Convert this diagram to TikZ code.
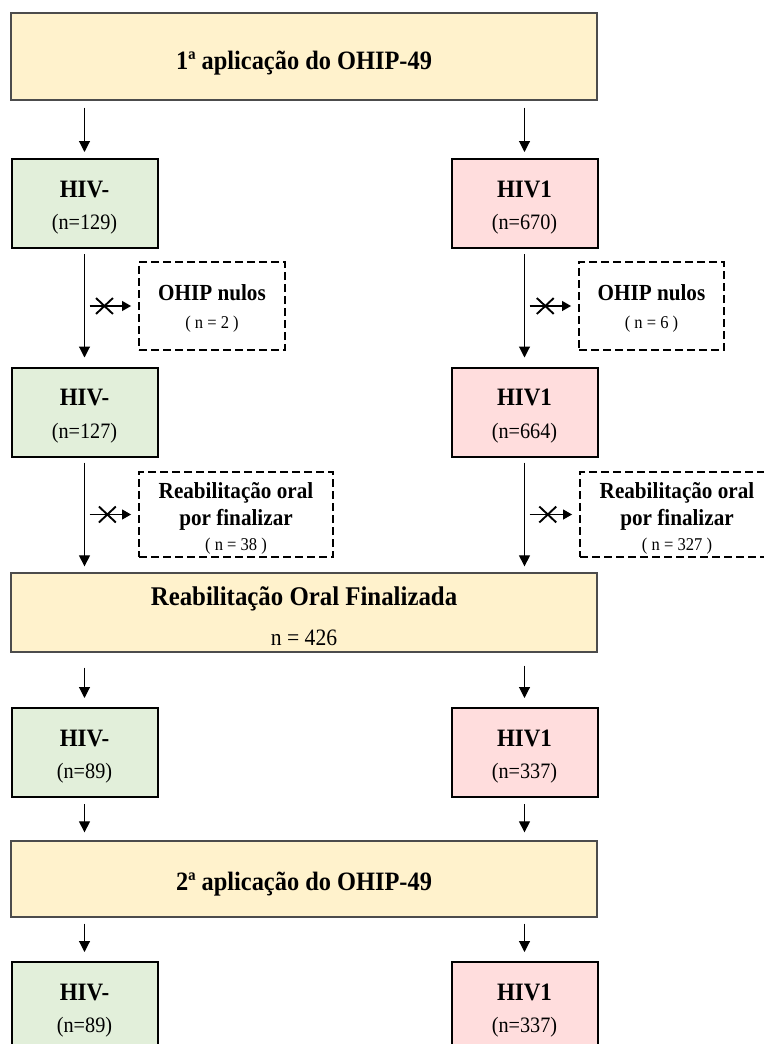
\documentclass[tikz,border=0pt]{standalone}
\usepackage{fontspec}
\setmainfont{Liberation Serif}[FakeStretch=0.92]
\usetikzlibrary{arrows.meta,shapes.misc,calc}
\definecolor{stagefill}{HTML}{FFF2CC}
\definecolor{negfill}{HTML}{E2EFDA}
\definecolor{posfill}{HTML}{FFDDDD}
% group box with a bold title and a count, both set on fixed baselines
% #1 name, #2 style, #3 x centre, #4 y centre, #5 title, #6 count
\newcommand{\hivgroup}[6]{%
  \node[#2] (#1) at (#3,#4) {};
  \node[grptitle] (#1-t) at (#3,#4-6.5) {#5};
  \node[grpcount] (#1-c) at (#3,#4+26) {#6};
}
\begin{document}
\begin{tikzpicture}[x=1pt,y=-1pt,
  txt/.style={inner sep=0pt, anchor=base},
  stage/.style={draw=black!70, line width=1.3pt, fill=stagefill, minimum width=586pt,
    inner sep=0pt},
  stagetitle/.style={txt, font=\fontsize{26.5}{30}\selectfont\bfseries},
  group/.style={draw=black, line width=2pt, minimum width=146pt, minimum height=89pt,
    inner sep=0pt},
  negbox/.style={group, fill=negfill},
  posbox/.style={group, fill=posfill},
  grptitle/.style={txt, font=\fontsize{25}{30}\selectfont\bfseries},
  grpcount/.style={txt, font=\fontsize{22}{26}\selectfont},
  dropbox/.style={draw=black, line width=1.9pt, dash pattern=on 8pt off 4pt,
    inner sep=0pt},
  droptitle/.style={txt, font=\fontsize{23}{28}\selectfont\bfseries},
  dropcount/.style={txt, font=\fontsize{18}{22}\selectfont},
  flow/.style={-{Triangle[length=11pt,width=11pt]}, line width=1.1pt},
  side/.style={-{Triangle[length=9pt,width=10pt]}, line width=1.1pt},
  xmark/.style={cross out, draw, line width=1.9pt, minimum width=15pt,
    minimum height=14pt, inner sep=0pt}
]
\useasboundingbox (0,0) rectangle (763,1044);

% first application
\node[stage, minimum height=87pt] (app1) at (304,56.5) {};
\node[stagetitle] (app1-t) at (304,69) {1ª aplicação do OHIP-49};

% initial groups
\hivgroup{n1}{negbox}{84.5}{203.5}{HIV-}{(n=129)}
\hivgroup{p1}{posbox}{524.5}{203.5}{HIV1}{(n=670)}

% null questionnaires
\node[dropbox, minimum width=146pt, minimum height=88pt] (d1l) at (212,306) {};
\node[droptitle] (d1l-t) at (212,300.5) {OHIP nulos};
\node[dropcount] (d1l-c) at (212,328.5) {( n = 2 )};
\node[dropbox, minimum width=145pt, minimum height=88pt] (d1r) at (651.5,306) {};
\node[droptitle] (d1r-t) at (651.5,300.5) {OHIP nulos};
\node[dropcount] (d1r-c) at (651.5,328.5) {( n = 6 )};

% valid questionnaires
\hivgroup{n2}{negbox}{84.5}{412}{HIV-}{(n=127)}
\hivgroup{p2}{posbox}{524.5}{412}{HIV1}{(n=664)}

% unfinished rehabilitation
\node[dropbox, minimum width=194pt, minimum height=85pt] (d2l) at (236,514.5) {};
\node[droptitle] (d2l-t) at (236,498) {Reabilitação oral};
\node[droptitle] (d2l-s) at (236,525) {por finalizar};
\node[dropcount] (d2l-c) at (236,550.5) {( n = 38 )};
\node[dropbox, minimum width=194pt, minimum height=85pt] (d2r) at (677,514.5) {};
\node[droptitle] (d2r-t) at (677,498) {Reabilitação oral};
\node[droptitle] (d2r-s) at (677,525) {por finalizar};
\node[dropcount] (d2r-c) at (677,550.5) {( n = 327 )};

% finished rehabilitation
\node[stage, minimum height=79pt] (fin) at (304,612.5) {};
\node[txt, font=\fontsize{27}{30}\selectfont\bfseries] (fin-t) at (304,605.5)
  {Reabilitação Oral Finalizada};
\node[txt, font=\fontsize{23.5}{28}\selectfont] (fin-c) at (304,645) {n = 426};

\hivgroup{n3}{negbox}{84.5}{752.5}{HIV-}{(n=89)}
\hivgroup{p3}{posbox}{524.5}{752.5}{HIV1}{(n=337)}

% second application
\node[stage, minimum height=76pt] (app2) at (304,879) {};
\node[stagetitle] (app2-t) at (304,890) {2ª aplicação do OHIP-49};

\hivgroup{n4}{negbox}{84.5}{1006.5}{HIV-}{(n=89)}
\hivgroup{p4}{posbox}{524.5}{1006.5}{HIV1}{(n=337)}

% main flow
\draw[flow, shorten <=7pt, shorten >=6pt] (app1.south -| n1) -- (n1.north);
\draw[flow, shorten <=7pt, shorten >=6pt] (app1.south -| p1) -- (p1.north);
\draw[flow, shorten <=5pt, shorten >=9pt] (n1.south) -- (n2.north);
\draw[flow, shorten <=5pt, shorten >=9pt] (p1.south) -- (p2.north);
\draw[flow, shorten <=5pt, shorten >=6pt] (n2.south) -- (fin.north -| n2);
\draw[flow, shorten <=5pt, shorten >=6pt] (p2.south) -- (fin.north -| p2);
\draw[flow, shorten <=15pt, shorten >=9pt] (fin.south -| n3) -- (n3.north);
\draw[flow, shorten <=13pt, shorten >=9pt] (fin.south -| p3) -- (p3.north);
\draw[flow, shorten <=6pt, shorten >=8pt] (n3.south) -- (app2.north -| n3);
\draw[flow, shorten <=6pt, shorten >=8pt] (p3.south) -- (app2.north -| p3);
\draw[flow, shorten <=6pt, shorten >=9pt] (app2.south -| n4) -- (n4.north);
\draw[flow, shorten <=6pt, shorten >=9pt] (app2.south -| p4) -- (p4.north);

% exclusions
\draw[side] ($(d1l.west -| n1)+(5,0)$) -- ($(d1l.west)+(-7,0)$) node[xmark, pos=0.36] (x1l) {};
\draw[side] ($(d1r.west -| p1)+(5,0)$) -- ($(d1r.west)+(-7,0)$) node[xmark, pos=0.38] (x1r) {};
\draw[side] ($(d2l.west -| n2)+(5,0)$) -- ($(d2l.west)+(-7,0)$) node[xmark, pos=0.43] (x2l) {};
\draw[side] ($(d2r.west -| p2)+(5,0)$) -- ($(d2r.west)+(-7,0)$) node[xmark, pos=0.43] (x2r) {};
\end{tikzpicture}
\end{document}
